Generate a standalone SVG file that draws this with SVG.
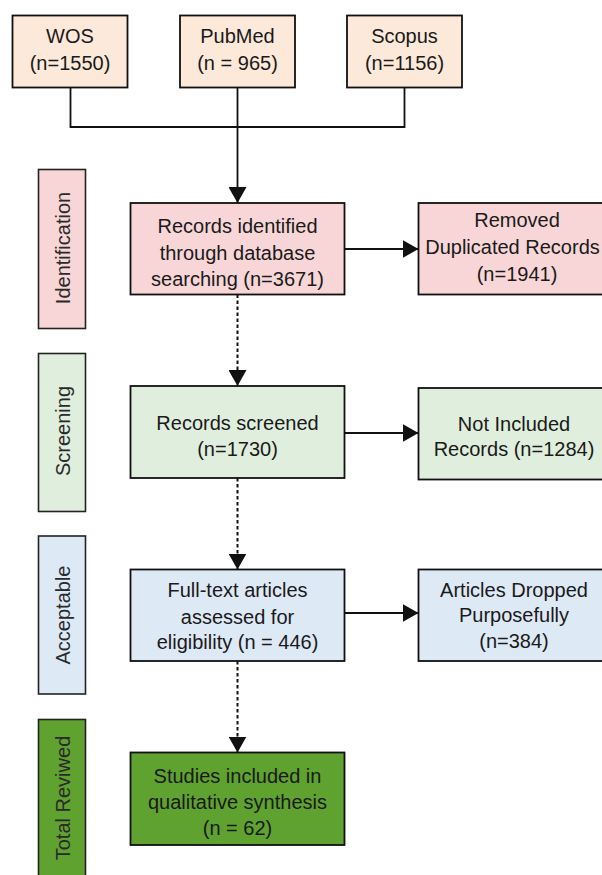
<svg xmlns="http://www.w3.org/2000/svg" width="602" height="875" viewBox="0 0 602 875">
  <style>
    .box { stroke: #111; stroke-width: 1.8; }
    .side { stroke: #222; stroke-width: 1.6; }
    .src { fill: #fde9d9; }
    .idn { fill: #f8d6d7; }
    .scr { fill: #e0eedd; }
    .acc { fill: #dee9f6; }
    .tot { fill: #60a230; }
    text { font-family: "Liberation Sans", Arial, sans-serif; font-size: 20px; fill: #1a1a1a; text-anchor: middle; }
    .lbl { fill: #2a2a2a; }
    .link { fill: none; stroke: #111; stroke-width: 1.8; }
    .dot { stroke-dasharray: 3.5 2.5; stroke-width: 2; }
  </style>
  <defs>
    <marker id="arrow" markerUnits="userSpaceOnUse" markerWidth="16" markerHeight="18" viewBox="0 0 16 18" refX="16" refY="9" orient="auto">
      <path d="M0,0 L16,9 L0,18 Z" fill="#111"/>
    </marker>
  </defs>

  <!-- stage labels on the left -->
  <g id="stage-identification">
    <rect class="side idn" x="38.5" y="169.5" width="47" height="159"/>
    <text class="lbl" transform="translate(69.5,248) rotate(-90)">Identification</text>
  </g>
  <g id="stage-screening">
    <rect class="side scr" x="38.5" y="353.5" width="47" height="158"/>
    <text class="lbl" transform="translate(69.5,431) rotate(-90)">Screening</text>
  </g>
  <g id="stage-acceptable">
    <rect class="side acc" x="38.5" y="536" width="47" height="158"/>
    <text class="lbl" transform="translate(69.5,615) rotate(-90)">Acceptable</text>
  </g>
  <g id="stage-total">
    <rect class="side tot" x="38.5" y="719.5" width="47" height="170"/>
    <text class="lbl" transform="translate(70,798) rotate(-90)">Total Reviwed</text>
  </g>

  <!-- source databases -->
  <g id="wos">
    <rect class="box src" x="12.5" y="15.5" width="115" height="72"/>
    <text x="70" y="43">WOS</text>
    <text x="70" y="70">(n=1550)</text>
  </g>
  <g id="pubmed">
    <rect class="box src" x="180" y="15.5" width="115" height="72"/>
    <text x="237.5" y="43">PubMed</text>
    <text x="237.5" y="70">(n = 965)</text>
  </g>
  <g id="scopus">
    <rect class="box src" x="347" y="15.5" width="115" height="72"/>
    <text x="404.5" y="43">Scopus</text>
    <text x="404.5" y="70">(n=1156)</text>
  </g>

  <!-- main flow -->
  <g id="identified">
    <rect class="box idn" x="130.5" y="203" width="214" height="91.5"/>
    <text x="237.5" y="233">Records identified</text>
    <text x="237.5" y="259.5">through database</text>
    <text x="237.5" y="286">searching (n=3671)</text>
  </g>
  <g id="duplicates">
    <rect class="box idn" x="418.5" y="203" width="200" height="91.5"/>
    <text x="517" y="227">Removed</text>
    <text x="512.5" y="254">Duplicated Records</text>
    <text x="517" y="281">(n=1941)</text>
  </g>
  <g id="screened">
    <rect class="box scr" x="130.5" y="386" width="214" height="92"/>
    <text x="237.5" y="430">Records screened</text>
    <text x="237.5" y="456">(n=1730)</text>
  </g>
  <g id="not-included">
    <rect class="box scr" x="418.5" y="388" width="200" height="91.5"/>
    <text x="514" y="431">Not Included</text>
    <text x="514" y="456">Records (n=1284)</text>
  </g>
  <g id="full-text">
    <rect class="box acc" x="130.5" y="569.5" width="214" height="91.5"/>
    <text x="237.5" y="597">Full-text articles</text>
    <text x="237.5" y="623.5">assessed for</text>
    <text x="237.5" y="649">eligibility (n = 446)</text>
  </g>
  <g id="dropped">
    <rect class="box acc" x="418.5" y="569.5" width="200" height="91.5"/>
    <text x="514" y="597">Articles Dropped</text>
    <text x="514" y="622">Purposefully</text>
    <text x="514" y="648">(n=384)</text>
  </g>
  <g id="included">
    <rect class="box tot" x="130.5" y="752.5" width="214" height="92.5"/>
    <text x="237.5" y="783">Studies included in</text>
    <text x="237.5" y="809">qualitative synthesis</text>
    <text x="237.5" y="835">(n = 62)</text>
  </g>

  <!-- connectors -->
  <g id="connectors">
    <path class="link" d="M70.5,87.5 V127 H404.5 V87.5"/>
    <path class="link" d="M237.5,87.5 V203" marker-end="url(#arrow)"/>
    <path class="link dot" d="M237.5,294.5 V386" marker-end="url(#arrow)"/>
    <path class="link dot" d="M237.5,478 V569.5" marker-end="url(#arrow)"/>
    <path class="link dot" d="M237.5,661 V752.5" marker-end="url(#arrow)"/>
    <path class="link" d="M344.5,249 H418.5" marker-end="url(#arrow)"/>
    <path class="link" d="M344.5,433 H418.5" marker-end="url(#arrow)"/>
    <path class="link" d="M344.5,613 H418.5" marker-end="url(#arrow)"/>
  </g>
</svg>
